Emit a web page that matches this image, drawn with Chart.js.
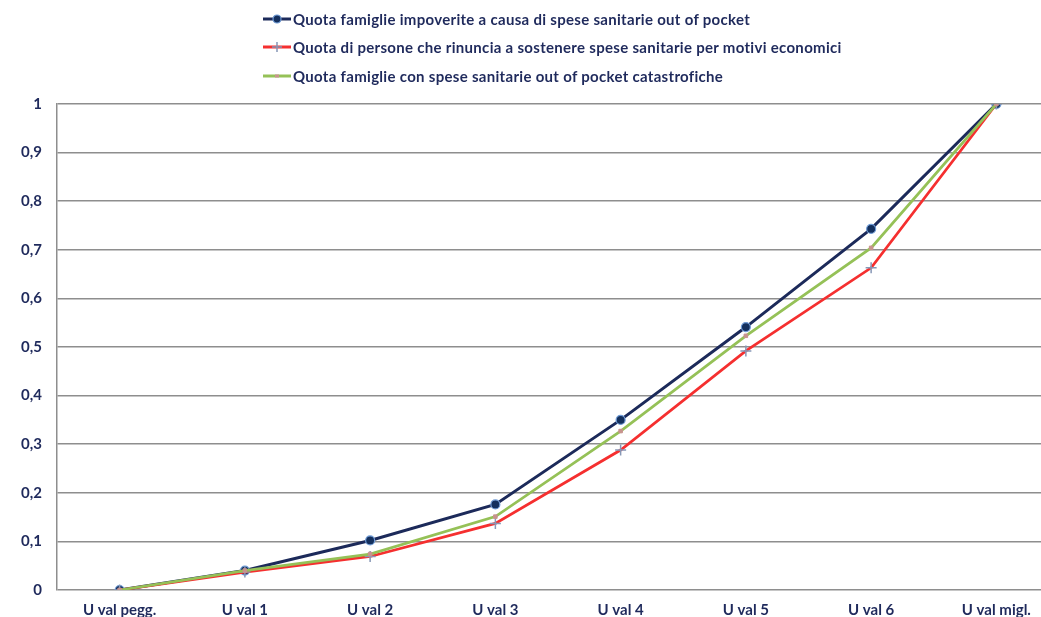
<!DOCTYPE html>
<html>
<head>
<meta charset="utf-8">
<script src="https://cdn.jsdelivr.net/npm/chart.js@4/dist/chart.umd.min.js"></script>
<style>
  html, body { margin: 0; padding: 0; background: #fff; }
  #wrap { position: relative; width: 1041px; height: 617px; overflow: hidden; }
  #chartBox { position: absolute; left: 0; top: 0; width: 1066px; height: 617px; }
  #legend { position: absolute; left: 263px; top: 0; font-family: Lato, "Open Sans", sans-serif;
            font-weight: bold; font-size: 15px; letter-spacing: 0.3px; color: #1f2a5c; }
  .row { position: absolute; left: 0; height: 20px; display: flex; align-items: center; white-space: nowrap; }
  .row svg { margin-right: 2px; }
</style>
</head>
<body>
<div id="wrap">
  <div id="chartBox"><canvas id="lineChart"></canvas></div>
  <div id="legend"></div>
</div>
<script>
// Categories and series
const categories = ['U val pegg.', 'U val 1', 'U val 2', 'U val 3', 'U val 4', 'U val 5', 'U val 6', 'U val migl.'];

const impoverite = [0, 0.040, 0.102, 0.176, 0.350, 0.541, 0.743, 1];
const rinuncia = [0, 0.037, 0.069, 0.137, 0.288, 0.492, 0.663, 1];
const catastrofiche = [0, 0.040, 0.074, 0.151, 0.327, 0.523, 0.704, 1];

const seriesLabels = [
    'Quota famiglie impoverite a causa di spese sanitarie out of pocket',
    'Quota di persone che rinuncia a sostenere spese sanitarie per motivi economici',
    'Quota famiglie con spese sanitarie out of pocket catastrofiche'
];

const yTicks = [0, 0.1, 0.2, 0.3, 0.4, 0.5, 0.6, 0.7, 0.8, 0.9, 1];

const textColor = '#1f2a5c';
const gridColor = '#8e8e8e';
const fontFamily = 'Lato, "Open Sans", sans-serif';

const ctx = document.getElementById('lineChart').getContext('2d');

new Chart(ctx, {
    type: 'line',
    data: {
        labels: categories,
        datasets: [
            {
                label: seriesLabels[0],
                data: impoverite,
                borderColor: '#1c2a5a',
                borderWidth: 3,
                pointStyle: 'circle',
                pointRadius: 4.5,
                pointBackgroundColor: '#14305e',
                pointBorderColor: '#6f9bd6',
                pointBorderWidth: 1.2,
                tension: 0,
                order: 3
            },
            {
                label: seriesLabels[1],
                data: rinuncia,
                borderColor: '#f52f2f',
                borderWidth: 2.75,
                pointStyle: 'cross',
                pointRadius: 5.5,
                pointBorderColor: '#8797b6',
                pointBorderWidth: 1.5,
                tension: 0,
                order: 2
            },
            {
                label: seriesLabels[2],
                data: catastrofiche,
                borderColor: '#95c157',
                borderWidth: 2.75,
                pointStyle: 'rect',
                pointRadius: 2.5,
                pointBackgroundColor: '#c8938e',
                pointBorderColor: '#c8938e',
                pointBorderWidth: 1,
                tension: 0,
                order: 1
            }
        ]
    },
    options: {
        responsive: true,
        maintainAspectRatio: false,
        animation: false,
        layout: { padding: { top: 104, right: 1, bottom: 0, left: 0 } },
        plugins: {
            legend: { display: false },
            tooltip: { enabled: false }
        },
        scales: {
            x: {
                offset: true,
                grid: { display: false, drawTicks: false },
                border: { display: false },
                ticks: {
                    color: textColor,
                    padding: 11,
                    maxRotation: 0,
                    autoSkip: false,
                    font: { family: fontFamily, size: 15, weight: 'bold' }
                },
                afterFit(scale) { scale.height = 27; }
            },
            y: {
                min: 0,
                max: 1,
                afterBuildTicks(scale) { scale.ticks = yTicks.map(v => ({ value: v })); },
                grid: { color: gridColor, lineWidth: 1.5, drawTicks: false },
                border: { color: gridColor, width: 1.5 },
                ticks: {
                    color: textColor,
                    padding: 15,
                    font: { family: fontFamily, size: 15, weight: 'bold' },
                    callback: v => String(Math.round(v * 10) / 10).replace('.', ',')
                },
                afterFit(scale) { scale.width = 57; }
            }
        }
    }
});

// Legend drawn as HTML, one entry per row like the original
const legendMarkers = [
    '<line x1="0" y1="10" x2="28" y2="10" stroke="#1c2a5a" stroke-width="3"/>' +
    '<circle cx="14" cy="10" r="4" fill="#14305e" stroke="#6f9bd6" stroke-width="1.2"/>',
    '<line x1="0" y1="10" x2="28" y2="10" stroke="#f52f2f" stroke-width="3"/>' +
    '<path d="M14 5 V15 M9 10 H19" stroke="#8797b6" stroke-width="1.5"/>',
    '<line x1="0" y1="10" x2="28" y2="10" stroke="#95c157" stroke-width="3"/>' +
    '<rect x="12" y="8.5" width="4" height="3" fill="#c8938e"/>'
];
const legendRowsY = [9, 37, 66];
const legend = document.getElementById('legend');
seriesLabels.forEach((label, i) => {
    const row = document.createElement('div');
    row.className = 'row';
    row.style.top = legendRowsY[i] + 'px';
    row.innerHTML = `<svg width="28" height="20">${legendMarkers[i]}</svg><span>${label}</span>`;
    legend.appendChild(row);
});
</script>
</body>
</html>
